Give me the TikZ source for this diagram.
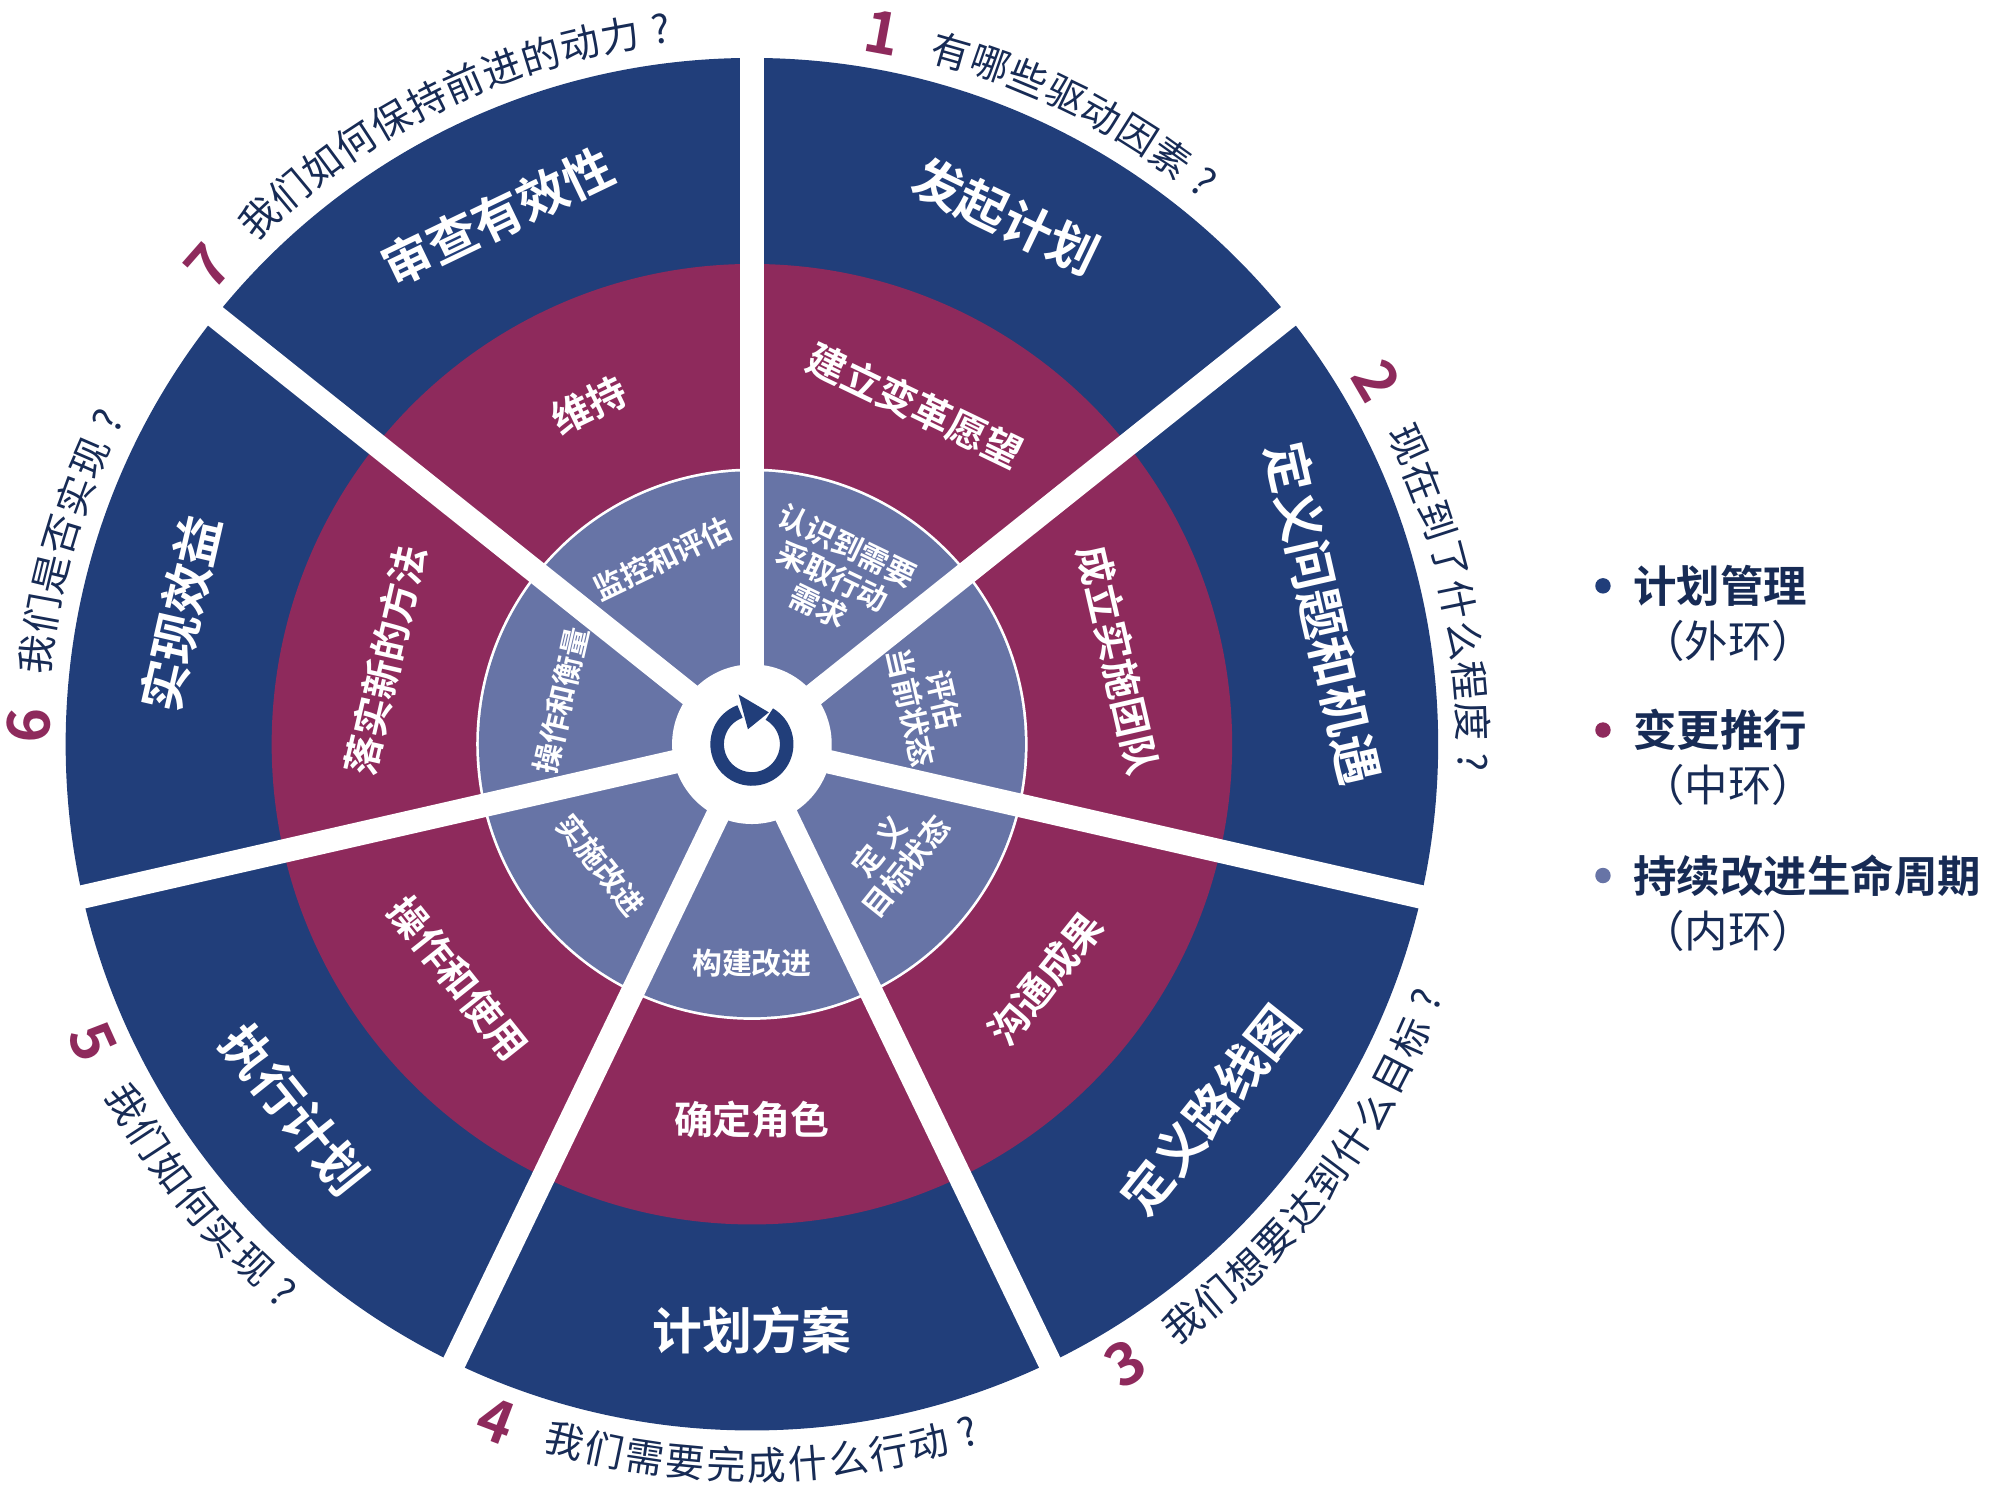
\documentclass[tikz,border=0pt]{standalone}
\usepackage{fontspec}
\newfontfamily\cjk{Noto Sans CJK SC}[BoldFont={Noto Sans CJK SC Bold}]
\usetikzlibrary{arrows.meta}
\definecolor{navy}{RGB}{33,62,122}
\definecolor{berry}{RGB}{142,42,92}
\definecolor{lav}{RGB}{103,116,166}
\def\rOut{533}
\def\rMid{373}
\def\rIn{212}
\def\rHub{62}

% question text set letter by letter along the outer arc
\newcommand\arcq[5]{% start angle, direction, number, name, chars
  \node[qnum, rotate={#1+90-180*(#2<0)}] (#4) at (#1:562) {#3};
  \foreach \ch [count=\i] in {#5}{
    \pgfmathsetmacro\ang{#1+#2*(2.4+3.25*\i)}
    \pgfmathsetmacro\rot{\ang+90-180*(#2<0)}
    \node[qtext, rotate=\rot] at (\ang:560) {\ch};
  }
}

\begin{document}
\begin{tikzpicture}[x=0.01cm,y=0.01cm,
    font=\cjk,
    outer/.style={text=white, font=\cjk\bfseries\fontsize{11}{13}\selectfont},
    middle/.style={text=white, font=\cjk\bfseries\fontsize{8.6}{10}\selectfont},
    inner/.style={text=white, font=\cjk\bfseries\fontsize{6.6}{7.4}\selectfont, align=center},
    qtext/.style={text=navy!70!black, font=\cjk\fontsize{8.6}{10}\selectfont, inner sep=0pt},
    qnum/.style={text=berry, font=\cjk\bfseries\fontsize{13}{14}\selectfont, inner sep=0pt},
    legend/.style={anchor=west, inner sep=0pt, text=navy!70!black, font=\cjk\bfseries\fontsize{9.6}{12}\selectfont},
    legsub/.style={anchor=west, inner sep=0pt, text=navy!70!black, font=\cjk\fontsize{9.6}{12}\selectfont},
    gap/.style={white, line width=5.2pt}
  ]
    \useasboundingbox (-584,-582) rectangle (981,578);

    % rings
    \fill[navy] (0,0) circle (\rOut);
    \fill[berry] (0,0) circle (\rMid);
    \draw[white, line width=1.2pt] (0,0) circle (\rIn);
    \fill[lav] (0,0) circle (\rIn);
    \foreach \k in {0,...,6}
      \draw[gap] (0,0) -- ({90-51.4286*\k}:545);
    \fill[white] (0,0) circle (\rHub);

    % hub icon
    \draw[navy, line width=3pt] (0,0) ++(60:27) arc (60:-250:27);
    \fill[navy] (105:40) -- (105:12) -- (62:28) -- cycle;

    % outer ring
    \node[outer, rotate=-25.7] (initiate) at (64.3:455) {发起计划};
    \node[outer, rotate=-77.1] (define) at (12.9:455) {定义问题和机遇};
    \node[outer, rotate=51.4] (roadmap) at (-38.6:455) {定义路线图};
    \node[outer] (plan) at (-90:455) {计划方案};
    \node[outer, rotate=-51.4] (execute) at (-141.4:455) {执行计划};
    \node[outer, rotate=77.1] (benefit) at (167.1:455) {实现效益};
    \node[outer, rotate=25.7] (review) at (115.7:455) {审查有效性};

    % middle ring
    \node[middle, rotate=-25.7] (vision) at (64.3:292) {建立变革愿望};
    \node[middle, rotate=-77.1] (team) at (12.9:292) {成立实施团队};
    \node[middle, rotate=51.4] (comm) at (-38.6:292) {沟通成果};
    \node[middle] (roles) at (-90:292) {确定角色};
    \node[middle, rotate=-51.4] (operate) at (-141.4:292) {操作和使用};
    \node[middle, rotate=77.1] (newway) at (167.1:292) {落实新的方法};
    \node[middle, rotate=25.7] (sustain) at (115.7:292) {维持};

    % inner ring
    \node[inner, rotate=-25.7] (need) at (64.3:145) {认识到需要\\采取行动\\需求};
    \node[inner, rotate=-77.1] (current) at (12.9:140) {评估\\当前状态};
    \node[inner, rotate=51.4] (target) at (-38.6:140) {定\ 义\\目标状态};
    \node[inner] (build) at (-90:170) {构建改进};
    \node[inner, rotate=-51.4] (implement) at (-141.4:150) {实施改进};
    \node[inner, rotate=77.1] (measure) at (167.1:152) {操作和衡量};
    \node[inner, rotate=25.7] (monitor) at (115.7:160) {监控和评估};

    % questions round the outside
    \arcq{79.6}{-1}{1}{q1}{有,哪,些,驱,动,因,素,?}
    \arcq{30.2}{-1}{2}{q2}{现,在,到,了,什,么,程,度,?}
    \arcq{-58.9}{1}{3}{q3}{我,们,想,要,达,到,什,么,目,标,?}
    \arcq{-110.7}{1}{4}{q4}{我,们,需,要,完,成,什,么,行,动,?}
    \arcq{-155.7}{1}{5}{q5}{我,们,如,何,实,现,?}
    \arcq{178.5}{-1}{6}{q6}{我,们,是,否,实,现,?}
    \arcq{138.7}{-1}{7}{q7}{我,们,如,何,保,持,前,进,的,动,力,?}

    % legend
    \fill[navy] (661,123) circle (6);
    \node[legend] (lg1) at (684,123) {计划管理};
    \node[legsub] (lg1b) at (690,80) {（外环）};
    \fill[berry] (661,11) circle (6);
    \node[legend] (lg2) at (684,11) {变更推行};
    \node[legsub] (lg2b) at (690,-32) {（中环）};
    \fill[lav] (661,-102) circle (6);
    \node[legend] (lg3) at (684,-102) {持续改进生命周期};
    \node[legsub] (lg3b) at (690,-145) {（内环）};
\end{tikzpicture}
\end{document}
